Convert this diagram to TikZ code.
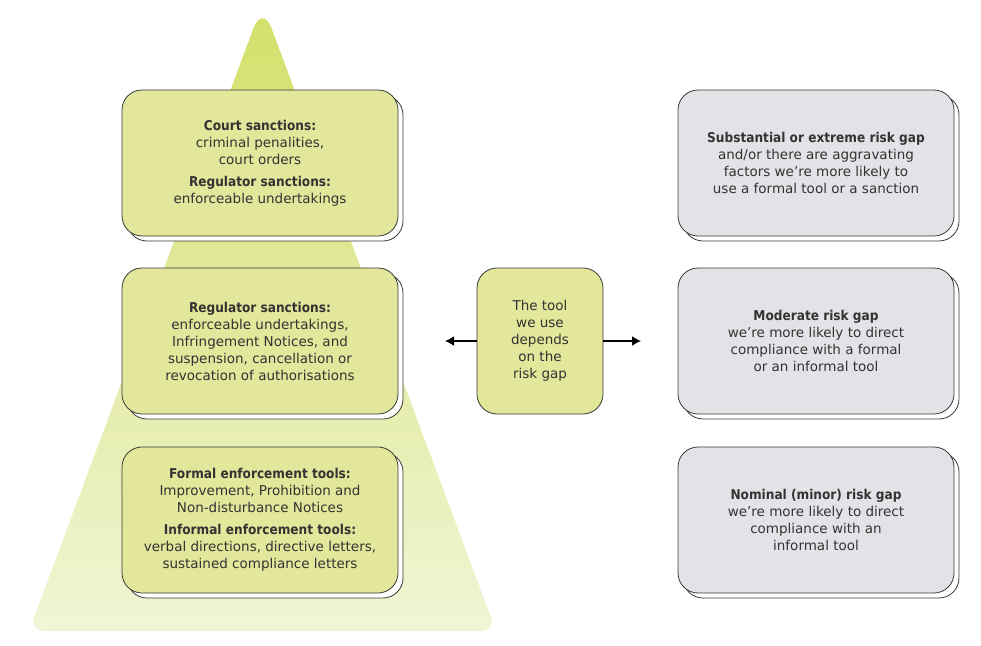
\documentclass[tikz,border=0pt]{standalone}
\usepackage{fontspec}
\setmainfont{DejaVu Sans}[BoldFont={DejaVu Sans Condensed Bold}]
\usetikzlibrary{shadows,arrows.meta}
\definecolor{boxgreen}{HTML}{E2E79B}
\definecolor{boxgrey}{HTML}{E3E3E7}
\definecolor{pyrtop}{HTML}{D3E068}
\definecolor{pyrbot}{HTML}{F1F5D6}
\definecolor{boxline}{HTML}{3A3A36}
\definecolor{txt}{HTML}{333333}
\tikzset{
  panel/.style={draw=boxline, line width=0.8pt, rounded corners=20pt,
    minimum width=276pt, minimum height=146pt, align=center,
    text=txt, font=\fontsize{13.5}{17}\selectfont},
  shadowed/.style={general shadow={shadow xshift=5pt, shadow yshift=-5pt,
    fill=white, draw=boxline, line width=0.8pt}},
  greenbox/.style={panel, fill=boxgreen, shadowed},
  greybox/.style={panel, fill=boxgrey, shadowed},
}
\begin{document}
\begin{tikzpicture}[x=1pt, y=-1pt, >={Latex[length=9pt,width=10pt]}]
\useasboundingbox (0,0) rectangle (981,645);
% pyramid behind the left column
\path[rounded corners=15pt, top color=pyrtop, bottom color=pyrbot]
  (262.5,631) -- (29,631) [rounded corners=26pt] -- (262.5,4)
  [rounded corners=15pt] -- (496,631) -- cycle;

\node[greenbox] (court) at (260,163)
  {\textbf{Court sanctions:}\\ criminal penalities,\\ court orders\\[5pt]
   \textbf{Regulator sanctions:}\\ enforceable undertakings};
\node[greenbox] (regulator) at (260,341)
  {\textbf{Regulator sanctions:}\\ enforceable undertakings,\\ Infringement Notices, and\\
   suspension, cancellation or\\ revocation of authorisations};
\node[greenbox] (enforce) at (260,520)
  {\textbf{Formal enforcement tools:}\\ Improvement, Prohibition and\\ Non-disturbance Notices\\[5pt]
   \textbf{Informal enforcement tools:}\\ verbal directions, directive letters,\\ sustained compliance letters};

\node[panel, fill=boxgreen, minimum width=126pt] (tool) at (540,341)
  {The tool\\ we use\\ depends\\ on the\\ risk gap};

\node[greybox] (extreme) at (816,163)
  {\textbf{Substantial or extreme risk gap}\\ and/or there are aggravating\\
   factors we're more likely to\\ use a formal tool or a sanction};
\node[greybox] (moderate) at (816,341)
  {\textbf{Moderate risk gap}\\ we're more likely to direct\\ compliance with a formal\\ or an informal tool};
\node[greybox] (nominal) at (816,520)
  {\textbf{Nominal (minor) risk gap}\\ we're more likely to direct\\ compliance with an\\ informal tool};

\coordinate (lefttip) at (445,341);
\coordinate (righttip) at (641,341);
\path[draw,line width=1.5pt,->] (tool) -- (lefttip);
\path[draw,line width=1.5pt,->] (tool) -- (righttip);
\end{tikzpicture}
\end{document}
